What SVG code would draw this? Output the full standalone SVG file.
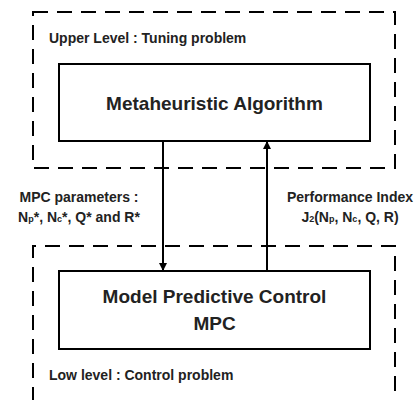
<svg xmlns="http://www.w3.org/2000/svg" width="414" height="400" viewBox="0 0 414 400">
<defs>
<style>
.dash{fill:none;stroke:#000;stroke-width:2;stroke-dasharray:15 9}
.box{fill:#fff;stroke:#000;stroke-width:2}
.conn{stroke:#000;stroke-width:2;fill:none}
text{font-family:"Liberation Sans",Arial,sans-serif;font-weight:bold;fill:#222}
.big{font-size:19px}
.small{font-size:14px}
.sub{font-size:9px}
</style>
<marker id="arr" markerWidth="8" markerHeight="8" viewBox="0 0 8 8" refX="8" refY="4" orient="auto" markerUnits="userSpaceOnUse">
<path d="M0,0 L8,4 L0,8 Z" fill="#000"/>
</marker>
</defs>
<rect width="414" height="400" fill="#fff"/>
<g id="upper-level">
<rect class="dash" x="33" y="12" width="362" height="156"/>
<text class="small" x="49" y="43">Upper Level : Tuning problem</text>
</g>
<g id="lower-level">
<path class="dash" d="M33,402 V246 H395 V402"/>
<text class="small" x="49" y="380">Low level : Control problem</text>
</g>
<g id="metaheuristic">
<rect class="box" x="59" y="64" width="311" height="77"/>
<text class="big" x="214.5" y="110" text-anchor="middle">Metaheuristic Algorithm</text>
</g>
<g id="mpc">
<rect class="box" x="59" y="271" width="311" height="78"/>
<text class="big" x="214.5" y="303" text-anchor="middle">Model Predictive Control</text>
<text class="big" x="214.5" y="330" text-anchor="middle">MPC</text>
</g>
<g id="connectors">
<line class="conn" x1="163" y1="141" x2="163" y2="271" marker-end="url(#arr)"/>
<line class="conn" x1="267" y1="271" x2="267" y2="141" marker-end="url(#arr)"/>
</g>
<g id="labels">
<text class="small" x="79" y="202" text-anchor="middle">MPC parameters :</text>
<text class="small" x="79" y="222" text-anchor="middle">N<tspan class="sub">p</tspan>*, N<tspan class="sub">c</tspan>*, Q* and R*</text>
<text class="small" x="350" y="202" text-anchor="middle">Performance Index</text>
<text class="small" x="350" y="222" text-anchor="middle">J<tspan class="sub">2</tspan>(N<tspan class="sub">p</tspan>, N<tspan class="sub">c</tspan>, Q, R)</text>
</g>
</svg>
